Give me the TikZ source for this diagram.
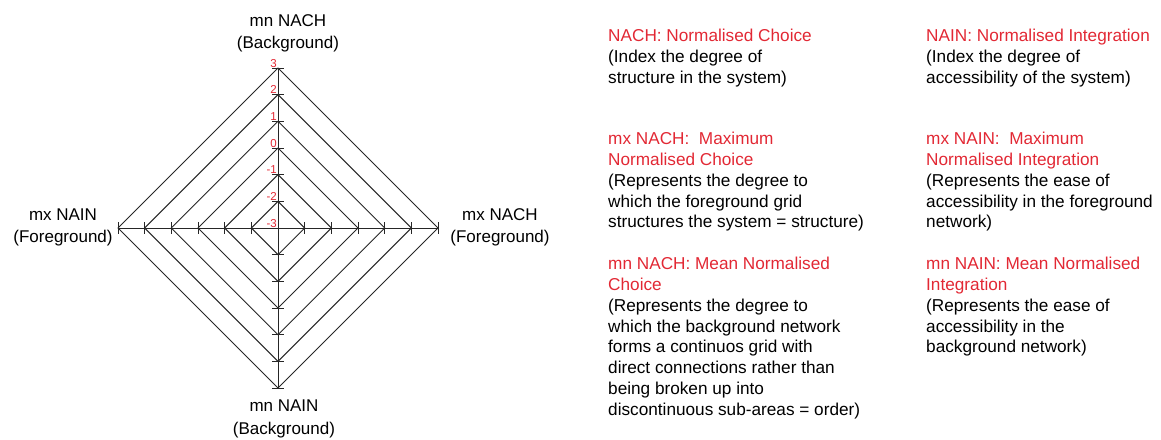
\documentclass[tikz,border=0pt]{standalone}
\usepackage{fontspec}
\setmainfont{Liberation Sans}
\definecolor{labelred}{RGB}{226,40,52}

\begin{document}
\begin{tikzpicture}[x=1pt,y=-1pt,
   web/.style={line width=0.95pt,black!85},
   axislabel/.style={align=center,inner sep=0pt,font=\fontsize{17}{22.5}\selectfont},
   levellabel/.style={labelred,inner sep=0.5pt,anchor=south east,font=\fontsize{11.5}{13}\selectfont},
   legend/.style={align=left,anchor=north west,inner sep=0pt,font=\fontsize{17.2}{20.8}\selectfont}]
   \useasboundingbox (0,0) rectangle (1161,439);

   % radar web
   \begin{scope}[shift={(278,228)}]
     \foreach \r in {1,...,6}
       \draw[web] (0,-\r*26.67) -- (\r*26.67,0) -- (0,\r*26.67) -- (-\r*26.67,0) -- cycle;
     \draw[web] (0,-160) -- (0,160) (-160,0) -- (160,0);
     \foreach \r in {1,...,6}
       \draw[web] (-6,-\r*26.67) -- (6,-\r*26.67) (-6,\r*26.67) -- (6,\r*26.67)
                  (-\r*26.67,-6) -- (-\r*26.67,6) (\r*26.67,-6) -- (\r*26.67,6);
     \foreach \v [count=\k from 0] in {-3,...,3}
       \node[levellabel] (lv\k) at (-0.5,-\k*26.67) {\v};
   \end{scope}

   \node[axislabel] (mnnach) at (288,33.5) {mn NACH\\(Background)};
   \node[axislabel] (mxnain) at (63,227.5) {mx NAIN\\(Foreground)};
   \node[axislabel] (mxnach) at (500,227.5) {mx NACH\\(Foreground)};
   \node[axislabel] (mnnain) at (284,419) {mn NAIN\\(Background)};

   % legend
   \node[legend] (nach) at (608,29) {\textcolor{labelred}{NACH: Normalised Choice}\\
      (Index the degree of\\structure in the system)};
   \node[legend] (mxnachtext) at (608,132) {\textcolor{labelred}{mx NACH:~ Maximum}\\
      \textcolor{labelred}{Normalised Choice}\\(Represents the degree to\\
      which the foreground grid\\structures the system = structure)};
   \node[legend] (mnnachtext) at (608,257) {\textcolor{labelred}{mn NACH: Mean Normalised}\\
      \textcolor{labelred}{Choice}\\(Represents the degree to\\which the background network\\
      forms a continuos grid with\\direct connections rather than\\being broken up into\\
      discontinuous sub-areas = order)};
   \node[legend] (nain) at (926,29) {\textcolor{labelred}{NAIN: Normalised Integration}\\
      (Index the degree of\\accessibility of the system)};
   \node[legend] (mxnaintext) at (926,132) {\textcolor{labelred}{mx NAIN:~ Maximum}\\
      \textcolor{labelred}{Normalised Integration}\\(Represents the ease of\\
      accessibility in the foreground\\network)};
   \node[legend] (mnnaintext) at (926,257) {\textcolor{labelred}{mn NAIN: Mean Normalised}\\
      \textcolor{labelred}{Integration}\\(Represents the ease of\\accessibility in the\\
      background network)};
\end{tikzpicture}
\end{document}
